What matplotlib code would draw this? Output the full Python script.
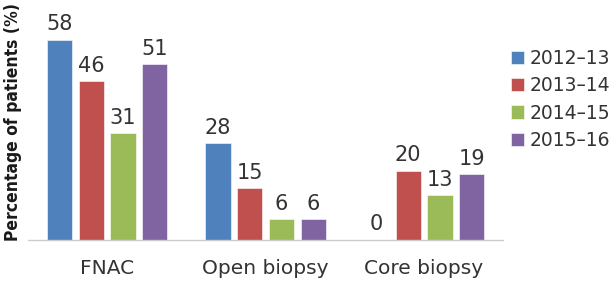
import numpy as np
import matplotlib
matplotlib.use("Agg")
import matplotlib.pyplot as plt

# chart data
categories = ["FNAC", "Open biopsy", "Core biopsy"]
years = ["2012\u201313", "2013\u201314", "2014\u201315", "2015\u201316"]
pct_2012 = [58, 28, 0]
pct_2013 = [46, 15, 20]
pct_2014 = [31, 6, 13]
pct_2015 = [51, 6, 19]
series = [pct_2012, pct_2013, pct_2014, pct_2015]
colors = ["#4f81bd", "#c0504d", "#9bbb59", "#8064a2"]

text_col = "#333333"

fig = plt.figure(figsize=(6.1, 2.81), dpi=100)
ax = fig.add_axes([0.046, 0.146, 0.779, 0.854])

x = np.arange(len(categories))
width = 0.16
offsets = [-0.3, -0.1, 0.1, 0.3]

for vals, off, col, lab in zip(series, offsets, colors, years):
    bars = ax.bar(x + off, vals, width, color=col, label=lab,
                  edgecolor="white", linewidth=0.4)
    for b, v in zip(bars, vals):
        ax.annotate(str(v), (b.get_x() + b.get_width() / 2, v),
                    xytext=(0, 4), textcoords="offset points",
                    ha="center", va="bottom", fontsize=15, color=text_col)

ax.set_xlim(-0.5, 2.5)
ax.set_ylim(0, 69.6)
ax.set_xticks(x)
ax.set_xticklabels(categories, fontsize=14.5, color=text_col)
ax.tick_params(axis="x", length=0, pad=14)
ax.set_yticks([])
for s in ["top", "right", "left"]:
    ax.spines[s].set_visible(False)
ax.spines["bottom"].set_color("#cccccc")
ax.spines["bottom"].set_linewidth(1)

# y label: condensed bold face if there is one
fig.text(0.021, 0.565, "Percentage of patients (%)", rotation=90,
         ha="center", va="center", fontsize=12.5, fontweight="bold",
         fontstretch="condensed",
         family=["DejaVu Sans Condensed", "DejaVu Sans"],
         color="#1a1a1a")

leg = fig.legend(loc="upper left", bbox_to_anchor=(0.822, 0.86),
                 frameon=False, fontsize=13.5, handlelength=0.7,
                 handleheight=0.7, handletextpad=0.3, labelspacing=0.45,
                 borderpad=0)
for t in leg.get_texts():
    t.set_color(text_col)

fig.savefig("out.png", dpi=100)
